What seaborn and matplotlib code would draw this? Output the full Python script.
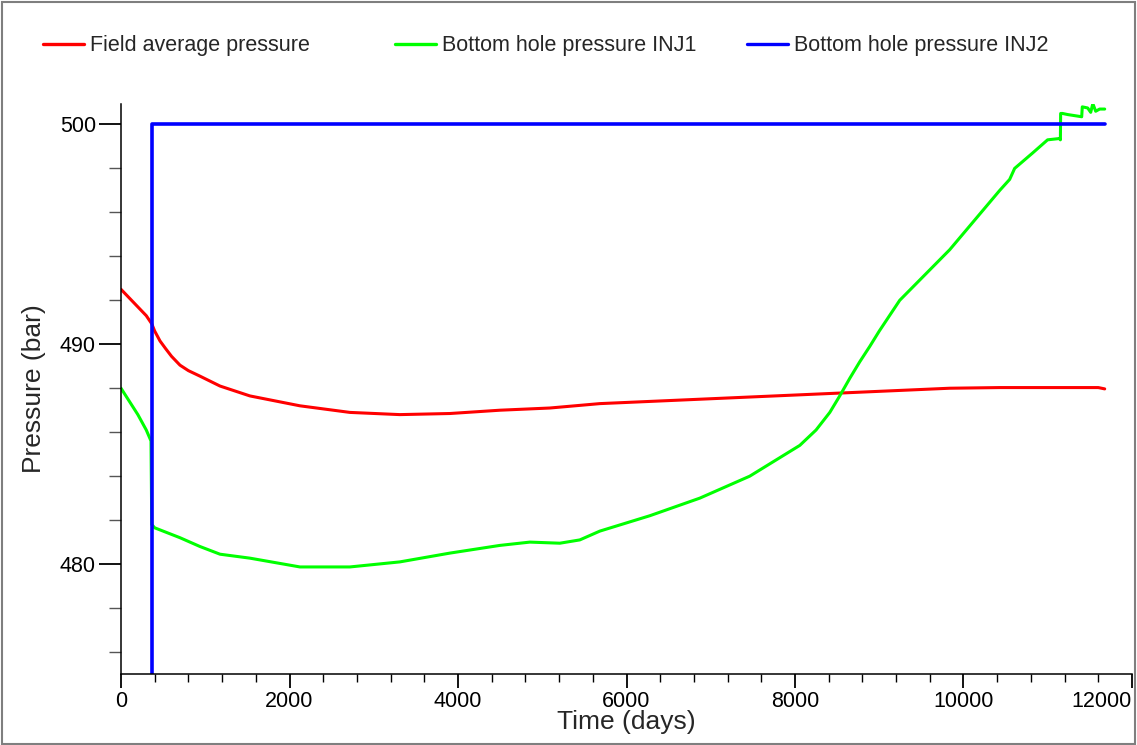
import numpy as np
import pandas as pd
import matplotlib
matplotlib.use("Agg")
import matplotlib.pyplot as plt
import seaborn as sns
from matplotlib.ticker import MultipleLocator
from matplotlib.lines import Line2D
from matplotlib.patches import Rectangle

# ---------------- data ----------------
series_names = ["Field average pressure", "Bottom hole pressure INJ1", "Bottom hole pressure INJ2"]
series_colors = ["#FF0000", "#00FF00", "#0000FF"]

fap_time = [0, 100, 200, 300, 365, 400, 463, 530, 600, 700, 800, 937, 1175, 1530, 2124, 2717,
            3310, 3904, 4497, 5090, 5683, 6277, 6870, 7463, 8057, 8650, 9243, 9836, 10430,
            11020, 11600, 11676]
fap_val = [492.5, 492.1, 491.7, 491.3, 490.93, 490.6, 490.15, 489.8, 489.45, 489.05, 488.8,
           488.55, 488.1, 487.65, 487.2, 486.9, 486.8, 486.85, 487.0, 487.1, 487.3, 487.4,
           487.5, 487.6, 487.7, 487.8, 487.9, 488.0, 488.03, 488.03, 488.03, 487.97]

inj1_time = [0, 100, 200, 300, 356, 365, 400, 700, 937, 1175, 1530, 2124, 2717, 3310, 3904,
             4497, 4853, 5209, 5446, 5683, 6277, 6870, 7463, 8057, 8250, 8413, 8531, 8650, 8768,
             8887, 9000, 9243, 9836, 10430, 10548, 10607, 10820, 10998, 11141, 11150, 11153,
             11175, 11236, 11320, 11403, 11410, 11474, 11510, 11535, 11569, 11616, 11676]
inj1_val = [488.0, 487.4, 486.8, 486.1, 485.6, 481.8, 481.65, 481.2, 480.8, 480.45, 480.27,
            479.87, 479.87, 480.1, 480.5, 480.85, 481.0, 480.95, 481.1, 481.5, 482.2, 483.0,
            484.0, 485.4, 486.1, 486.9, 487.65, 488.45, 489.2, 489.9, 490.6, 492.0, 494.3,
            497.0, 497.5, 498.0, 498.7, 499.3, 499.36, 499.3, 500.5, 500.5, 500.45, 500.4,
            500.35, 500.8, 500.75, 500.55, 500.95, 500.6, 500.7, 500.7]

inj2_time = [0, 365, 365, 11676]
inj2_val = [0.0, 0.0, 500.0, 500.0]

x_major = [0, 2000, 4000, 6000, 8000, 10000, 12000]
y_major = [480, 490, 500]

df = pd.concat([
    pd.DataFrame({"Time": fap_time, "Pressure": fap_val, "Series": series_names[0]}),
    pd.DataFrame({"Time": inj1_time, "Pressure": inj1_val, "Series": series_names[1]}),
    pd.DataFrame({"Time": inj2_time, "Pressure": inj2_val, "Series": series_names[2]}),
], ignore_index=True)

# ---------------- style ----------------
sns.set_style("ticks")
plt.rcParams["font.family"] = ["Liberation Sans", "DejaVu Sans"]

W, H = 1137, 745
fig = plt.figure(figsize=(W / 100, H / 100), dpi=100)
ax = fig.add_axes([121 / W, (H - 674) / H, (1132 - 121) / W, (674 - 104) / H])

palette = dict(zip(series_names, series_colors))
sns.lineplot(data=df, x="Time", y="Pressure", hue="Series", palette=palette,
             estimator=None, sort=False, ax=ax, legend=False, linewidth=2.2)
ax.get_lines()[2].set_linewidth(2.6)

ax.set_xlim(0, 12000)
ax.set_ylim(475, 500.93)
ax.set_xticks(x_major)
xt = ax.set_xticklabels([str(v) for v in x_major])
xt[-1].set_horizontalalignment("right")
ax.set_yticks(y_major)
ax.set_yticklabels([str(v) for v in y_major])
ax.xaxis.set_minor_locator(MultipleLocator(400))
ax.yaxis.set_minor_locator(MultipleLocator(2))

sns.despine(ax=ax)
for s in ("left", "bottom"):
    ax.spines[s].set_linewidth(1.1)
    ax.spines[s].set_color("black")

ax.tick_params(axis="x", which="major", length=10, width=1.3, labelsize=15.5, pad=2, colors="black")
ax.tick_params(axis="x", which="minor", length=6, width=1.0, colors="black")
ax.tick_params(axis="y", which="major", length=16, width=1.3, labelsize=15.5, pad=2, colors="black")
ax.tick_params(axis="y", which="minor", length=9, width=1.0, colors="#555555")

ax.set_xlabel("Time (days)", fontsize=19)
ax.set_ylabel("Pressure (bar)", fontsize=19)
ax.xaxis.set_label_coords(0.5, -0.064)
ax.yaxis.set_label_coords(-0.074, 0.5)

# legends (three fixed-position columns)
legend_x = [43, 395, 747]
for name, color, lx in zip(series_names, series_colors, legend_x):
    h = Line2D([], [], color=color, linewidth=2.4)
    fig.legend(handles=[h], labels=[name], loc="center left",
               bbox_to_anchor=(lx / W, (H - 46) / H), frameon=False,
               borderpad=0, borderaxespad=0, handlelength=1.9, handletextpad=0.28,
               fontsize=15.5)

# figure border
fig.patches.append(Rectangle((0.002, 0.002), 0.996, 0.995, transform=fig.transFigure,
                             fill=False, edgecolor="#7f7f7f", linewidth=1.5))

fig.savefig("out.png", dpi=100)
